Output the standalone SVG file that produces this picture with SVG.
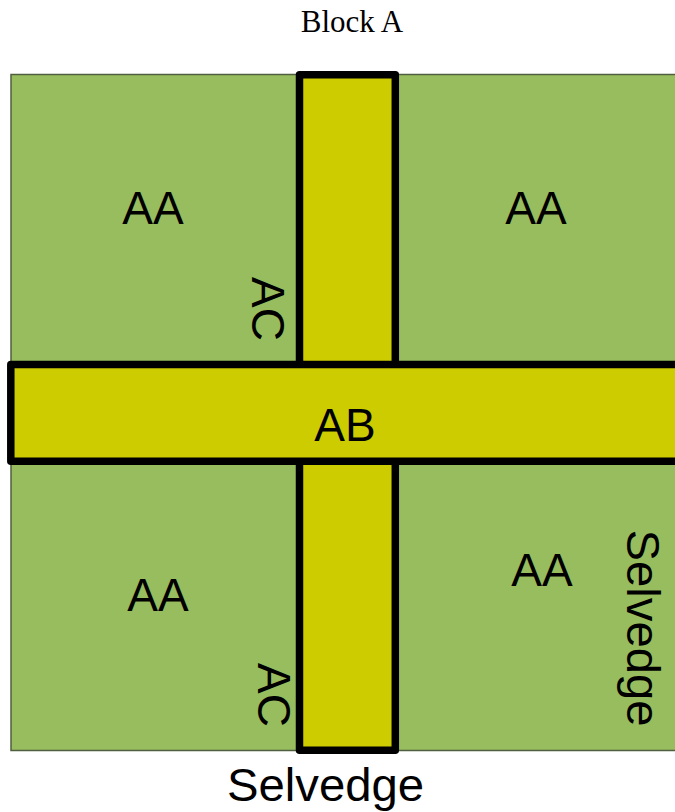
<svg xmlns="http://www.w3.org/2000/svg" width="675" height="812" viewBox="0 0 675 812">
<style>
.t{font-family:"Liberation Sans",Arial,sans-serif;font-size:46px;fill:#000;text-anchor:middle}
.bar{fill:#CCCC00;stroke:#000;stroke-width:7.5;stroke-linejoin:round}
</style>
<rect x="0" y="0" width="675" height="812" fill="#fff"/>
<text x="352" y="32" font-family="'Liberation Serif','Times New Roman',serif" font-size="31" text-anchor="middle">Block A</text>
<g id="background">
<rect x="11" y="74.5" width="700" height="676" fill="#97BD5E" stroke="#4F5F3F" stroke-width="1.5"/>
</g>
<g id="vbar"><rect class="bar" x="299.5" y="74.7" width="95.8" height="675.6"/></g>
<g id="hbar"><rect class="bar" x="10.8" y="364.5" width="700" height="96.7"/></g>
<g id="labels">
<text class="t" x="153" y="224">AA</text>
<text class="t" x="536" y="224">AA</text>
<text class="t" x="158" y="611">AA</text>
<text class="t" x="542" y="586">AA</text>
<text class="t" x="345" y="441">AB</text>
<text class="t" transform="translate(252,309) rotate(90)">AC</text>
<text class="t" transform="translate(258,695) rotate(90)">AC</text>
<text class="t" font-size="41" textLength="197" lengthAdjust="spacingAndGlyphs" transform="translate(627,628) rotate(90)" x="0" y="0">Selvedge</text>
<text class="t" x="325.5" y="801" font-size="43" textLength="197" lengthAdjust="spacingAndGlyphs">Selvedge</text>
</g>
</svg>
